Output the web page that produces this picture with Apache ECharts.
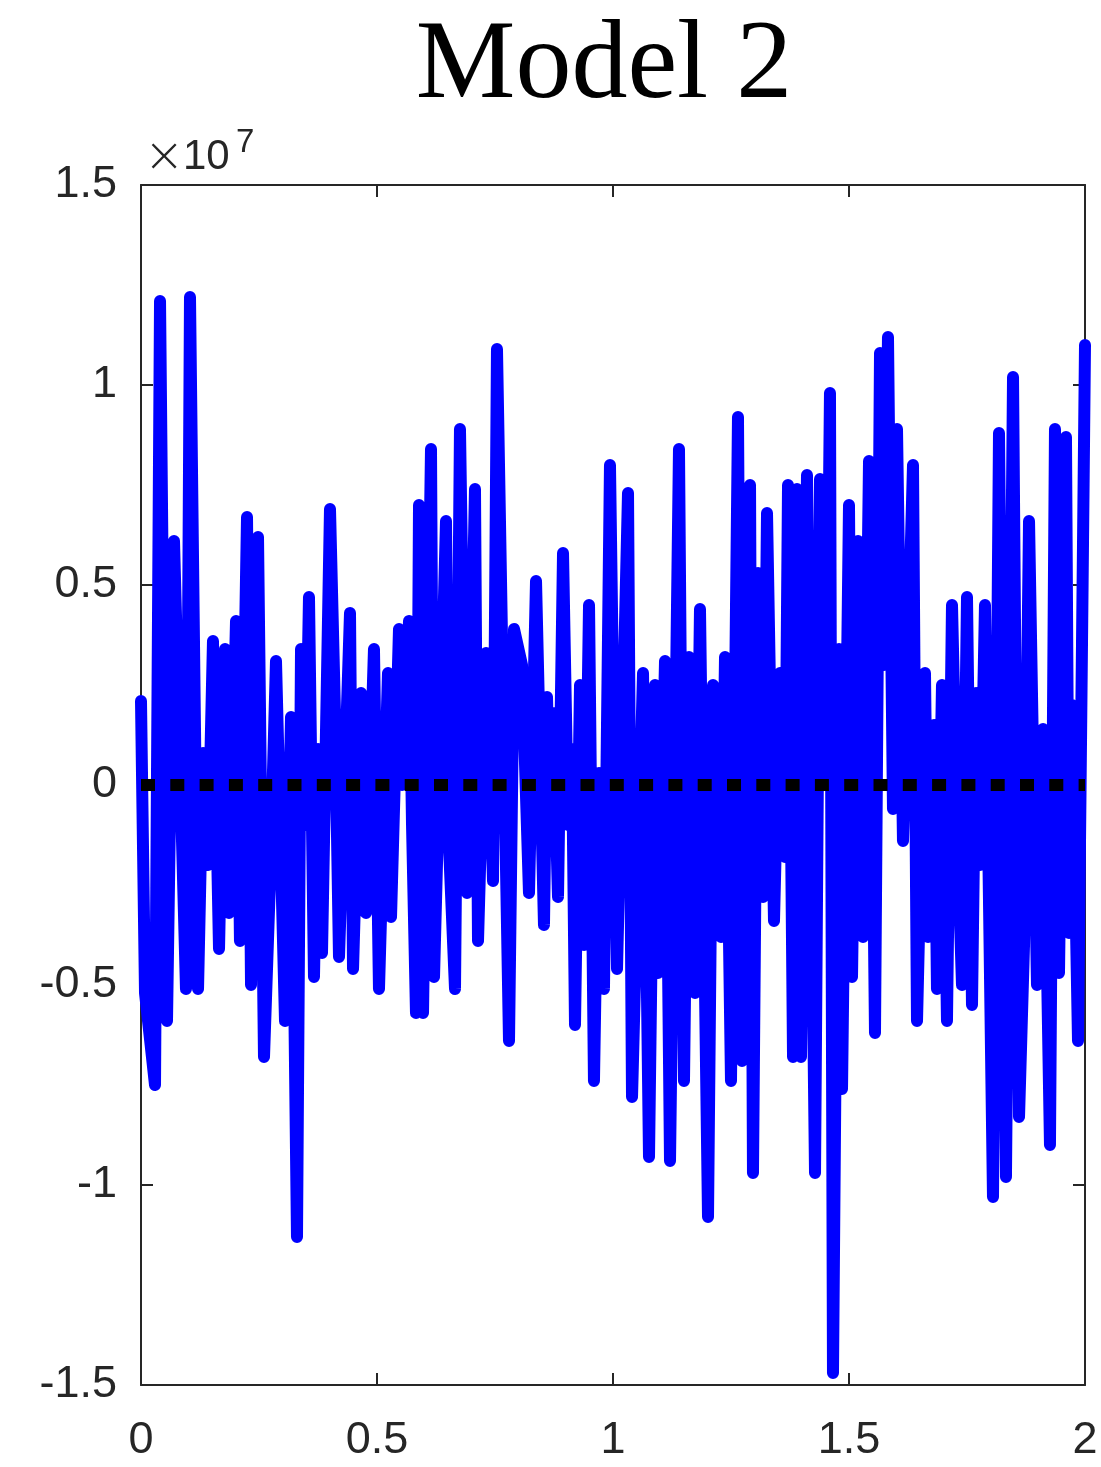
<!DOCTYPE html>
<html>
<head>
<meta charset="utf-8">
<script src="https://cdn.jsdelivr.net/npm/echarts@6/dist/echarts.min.js"></script>
<style>
html,body{margin:0;padding:0;background:#fff;}
#c{width:1101px;height:1467px;}
</style>
</head>
<body>
<div id="c"></div>
<script>
// ---- data ----
const titleText = "Model 2";
const xTicks = [0, 0.5, 1, 1.5, 2];
const yTicks = [-1.5, -1, -0.5, 0, 0.5, 1, 1.5];   // in units of 1e7
const yExponent = 7;
const yUnit = 1e6;                                  // ys below are in millions

const xs = [
  0, 0.0085, 0.0297, 0.0403, 0.0551, 0.0699, 0.0953, 0.1038, 0.1208, 0.1314,
  0.1419, 0.1525, 0.1653, 0.1780, 0.1864, 0.2013, 0.2097, 0.2246, 0.2331, 0.2479,
  0.2606, 0.2733, 0.2860, 0.3051, 0.3178, 0.3305, 0.3390, 0.3475, 0.3559, 0.3665,
  0.3750, 0.3835, 0.4004, 0.4110, 0.4195, 0.4428, 0.4492, 0.4661, 0.4767, 0.4936,
  0.5042, 0.5233, 0.5297, 0.5466, 0.5530, 0.5678, 0.5742, 0.5826, 0.5890, 0.5975,
  0.6144, 0.6208, 0.6462, 0.6525, 0.6653, 0.6758, 0.6907, 0.7076, 0.7140, 0.7309,
  0.7458, 0.7542, 0.7797, 0.7903, 0.8072, 0.8220, 0.8369, 0.8538, 0.8602, 0.8665,
  0.8729, 0.8835, 0.8941, 0.9047, 0.9131, 0.9195, 0.9301, 0.9386, 0.9492, 0.9597,
  0.9703, 0.9809, 0.9936, 1.0085, 1.0318, 1.0403, 1.0636, 1.0763, 1.0890, 1.0953,
  1.1102, 1.1208, 1.1398, 1.1504, 1.1610, 1.1737, 1.1843, 1.2013, 1.2119, 1.2288,
  1.2373, 1.2500, 1.2648, 1.2733, 1.2903, 1.2966, 1.3072, 1.3178, 1.3263, 1.3411,
  1.3538, 1.3644, 1.3708, 1.3814, 1.3898, 1.3983, 1.4110, 1.4280, 1.4386, 1.4513,
  1.4597, 1.4661, 1.4788, 1.4852, 1.5000, 1.5064, 1.5191, 1.5297, 1.5424, 1.5551,
  1.5657, 1.5742, 1.5826, 1.5932, 1.6017, 1.6144, 1.6356, 1.6441, 1.6610, 1.6674,
  1.6801, 1.6864, 1.6970, 1.7076, 1.7182, 1.7288, 1.7394, 1.7500, 1.7606, 1.7691,
  1.7775, 1.7881, 1.8051, 1.8178, 1.8326, 1.8475, 1.8602, 1.8708, 1.8814, 1.8983,
  1.9110, 1.9258, 1.9364, 1.9449, 1.9597, 1.9661, 1.9725, 1.9852, 2.0
];
const ys = [
  2.1, -5.2, -7.5, 12.1, -5.9, 6.1, -5.1, 12.2, -5.1, 0.8,
  -2.0, 3.6, -4.1, 3.4, -3.2, 4.1, -3.9, 6.7, -5.0, 6.2,
  -6.8, -2.4, 3.1, -5.9, 1.7, -11.3, 3.4, -1.0, 4.7, -4.8,
  0.9, -4.2, 6.9, 1.8, -4.3, 4.3, -4.6, 2.3, -3.2, 3.4,
  -5.1, 2.8, -3.3, 3.9, 0.0, 4.1, -1.0, -5.7, 7.0, -5.7,
  8.4, -4.8, 6.6, -1.5, -5.1, 8.9, -2.7, 7.4, -3.9, 3.3,
  -2.4, 10.9, -6.4, 3.9, 3.0, -2.7, 5.1, -3.5, 2.2, -1.3,
  1.8, -2.8, 5.8, -1.0, 0.9, -6.0, 2.5, -4.0, 4.5, -7.4,
  0.3, -5.1, 8.0, -4.6, 7.3, -7.8, 2.8, -9.3, 2.5, -4.7,
  3.1, -9.4, 8.4, -7.4, 3.2, -5.2, 4.4, -10.8, 2.5, -3.8,
  3.2, -7.4, 9.2, -6.9, 7.5, -9.7, 5.3, -2.8, 6.8, -3.4,
  2.8, -1.8, 7.5, -6.8, 7.4, -6.8, 7.75, -9.7, 7.65, 0.0,
  9.8, -14.7, 3.4, -7.6, 7.0, -4.8, 6.1, -3.8, 8.1, -6.2,
  10.8, 3.0, 11.2, -0.6, 8.9, -1.4, 8.0, -5.9, 2.8, -3.8,
  1.5, -5.1, 2.5, -5.9, 4.5, -1.0, -5.0, 4.7, -5.5, 2.3,
  -2.0, 4.5, -10.3, 8.8, -9.8, 10.2, -8.3, -4.0, 6.6, -5.0,
  1.4, -9.0, 8.9, -4.7, 8.7, -3.7, 2.0, -6.4, 11.0
];
const zeroXs = [0, 2];
const zeroYs = [0, 0];

// ---- chart ----
const expScale = Math.pow(10, yExponent);
const lineData = xs.map((x, i) => [x, ys[i] * yUnit]);
const zeroData = zeroXs.map((x, i) => [x, zeroYs[i]]);

const axisColor = '#262626';
const labelFont = 'Liberation Sans, Arial, Helvetica, sans-serif';

function fmtX(v) { return String(+v.toFixed(2)); }
function fmtY(v) { return String(+(v / expScale).toFixed(2)); }

const tickCommon = { inside: true, length: 12, lineStyle: { color: axisColor, width: 2 } };
const lineCommon = { show: true, onZero: false, lineStyle: { color: axisColor, width: 2 } };

const chart = echarts.init(document.getElementById('c'), null, { renderer: 'canvas' });
chart.setOption({
  animation: false,
  backgroundColor: '#ffffff',
  grid: { left: 141, right: 16, top: 185, bottom: 82, containLabel: false },
  xAxis: [
    {
      type: 'value', position: 'bottom',
      min: xTicks[0], max: xTicks[xTicks.length - 1], interval: xTicks[1] - xTicks[0],
      axisLine: lineCommon, axisTick: tickCommon, splitLine: { show: false },
      axisLabel: { fontSize: 45, color: axisColor, fontFamily: labelFont, margin: 33, formatter: fmtX }
    },
    {
      type: 'value', position: 'top',
      min: xTicks[0], max: xTicks[xTicks.length - 1], interval: xTicks[1] - xTicks[0],
      axisLine: lineCommon, axisTick: tickCommon, splitLine: { show: false },
      axisLabel: { show: false }
    }
  ],
  yAxis: [
    {
      type: 'value', position: 'left',
      min: yTicks[0] * expScale, max: yTicks[yTicks.length - 1] * expScale,
      interval: (yTicks[1] - yTicks[0]) * expScale,
      axisLine: lineCommon, axisTick: tickCommon, splitLine: { show: false },
      axisLabel: { fontSize: 45, color: axisColor, fontFamily: labelFont, margin: 24, formatter: fmtY }
    },
    {
      type: 'value', position: 'right',
      min: yTicks[0] * expScale, max: yTicks[yTicks.length - 1] * expScale,
      interval: (yTicks[1] - yTicks[0]) * expScale,
      axisLine: lineCommon, axisTick: tickCommon, splitLine: { show: false },
      axisLabel: { show: false }
    }
  ],
  series: [
    {
      type: 'line', xAxisIndex: 0, yAxisIndex: 0, data: lineData,
      symbol: 'none', clip: false, z: 2, silent: true,
      lineStyle: { color: '#0000ff', width: 12, cap: 'round', join: 'round' }
    },
    {
      type: 'line', xAxisIndex: 0, yAxisIndex: 0, data: zeroData,
      symbol: 'none', clip: false, z: 3, silent: true,
      lineStyle: { color: '#000000', width: 12, type: [14, 15.3], cap: 'butt' }
    }
  ],
  graphic: [
    {
      type: 'text', x: 604, y: 12, z: 10,
      style: { text: titleText, font: '112px "Liberation Serif", "Times New Roman", serif', fill: '#000000',
               textAlign: 'center', textVerticalAlign: 'top' }
    },
    {
      type: 'text', left: 144, top: 135, z: 10,
      style: { text: '\u00d7', font: '300 48px "DejaVu Sans", ' + labelFont, fill: axisColor }
    },
    {
      type: 'text', left: 183, top: 136, z: 10,
      style: { text: '10', font: '42px ' + labelFont, fill: axisColor }
    },
    {
      type: 'text', left: 236, top: 126, z: 10,
      style: { text: String(yExponent), font: '33px ' + labelFont, fill: axisColor }
    }
  ]
});
</script>
</body>
</html>
